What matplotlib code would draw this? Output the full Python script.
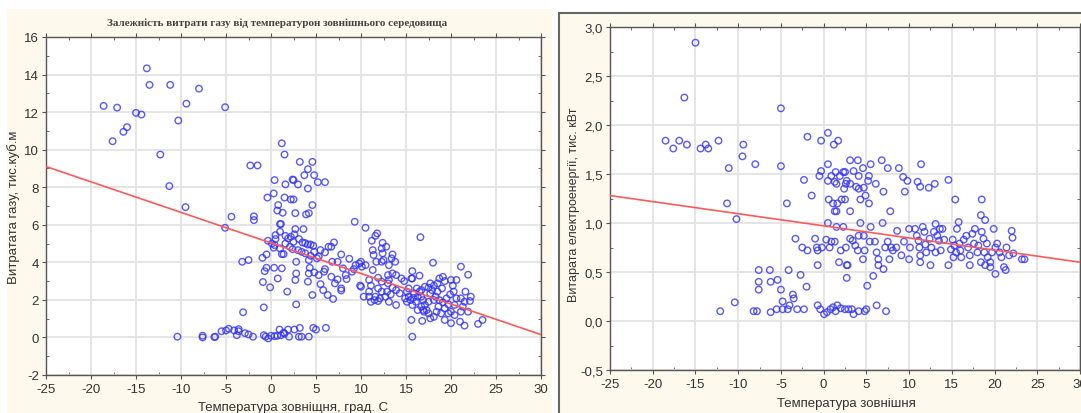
import numpy as np
import matplotlib.pyplot as plt
from matplotlib.patches import Rectangle
from matplotlib.ticker import MultipleLocator, FuncFormatter

plt.rcParams['font.family'] = ['Liberation Sans', 'DejaVu Sans']
plt.rcParams['axes.unicode_minus'] = False

# gas use vs outside temperature
gas_temp = [-18.6, -17.1, -17.6, -16.4, -16.0, -15.0, -14.4, -13.8, -13.5, -12.3,
            -11.2, -11.3, -10.3, -9.4, -9.5, -8.0, -10.4, -5.1, -5.1, -4.4,
            -3.2, -2.5, -3.1, -2.3, -1.5, -1.9, -1.9, 0.4, 0.3, -0.4,
            1.2, 1.5, 1.6, 1.5, 2.4, 2.5, 2.2, 2.5, 3.0, 3.2,
            3.7, 4.1, 4.1, 4.6, 4.8, 5.2, 6.0, 4.6, 4.2, 3.9,
            2.7, 0.8, 0.7, 1.3, 1.0, 1.1, 9.3, 10.5, 11.6, 11.8,
            11.2, 12.4, 12.8, 13.5, 16.6, 18.0, 21.1, 21.9, 15.7, 15.6,
            15.7, 16.5, 15.6, 15.7, 20.0, 21.5, 23.0, 23.5, 21.0, 16.8,
            -7.6, -7.6, -6.3, -6.2, -5.5, -5.0, -4.7, -4.1, -3.8, -3.6,
            -3.6, -2.9, -2.5, -2.0, -0.8, -0.3, 0.0, 0.4, 0.7, 0.95,
            1.1, 1.4, 2.0, 1.9, 2.6, 3.2, 3.1, 3.4, 4.2, 4.7,
            5.0, 6.1, 1.5, -0.6,
            -0.8, -0.9, -0.1, 0.75, 1.8, 2.8, -0.7, -0.5, 0.35, 1.2,
            -0.95, -0.5, 0.3, -0.35, 0.5, 1.2, 1.4, 2.8, 2.8, 2.7,
            4.1, 4.6, 4.2, 4.3, 4.8, 5.3, 5.9, 5.5, 5.8, 6.3,
            6.9, 7.1, 7.4, 7.8, 7.8, 6.7, 6.0,
            1.6, 1.9, 2.2, 2.6, 2.7, 3.6, 3.1, 3.5, 3.8, 4.1,
            4.4, 4.7, 4.8, 4.4, 4.2, 5.1, 5.3, 5.5, 6.0, 6.4,
            6.7, 7.0, 6.8, 7.4, 7.8, 8.7, 8.0, 8.3, 8.4, 9.0,
            9.2, 9.4, 9.8, 10.1, 10.0, 10.5, 9.9, 10.0, 10.3, 10.9,
            11.1, 11.5, 11.9, 11.6, 10.9, 11.1, 10.9, 11.3, 11.7, 11.4,
            11.3, 12.3, 12.4, 12.5, 12.3, 13.1, 13.4, 13.8, 13.0, 13.1,
            13.5, 13.9, 14.5, 14.8, 13.5, 12.9, 13.3, 13.9, 14.3, 12.3,
            11.9, 12.1, 13.1, 13.9, 12.7, 11.9, 12.3, 13.0,
            15.1, 15.3, 15.5, 15.7, 15.1, 14.9, 15.9, 16.2, 16.5, 16.7,
            16.9, 17.1, 17.3, 17.0, 17.5, 17.7, 17.9, 17.5, 17.7, 18.1,
            18.5, 18.7, 19.1, 19.3, 19.0, 18.5, 18.3, 18.7, 19.1, 18.6,
            18.4, 18.9, 19.3, 19.7, 19.5, 19.9, 20.3, 20.2, 20.0, 20.6,
            20.6, 20.4, 20.0, 20.4, 21.1, 21.3, 21.5, 21.1, 21.6, 22.2,
            22.1, 21.9, 19.3, 18.1, 16.9, 16.3, 16.1, 16.7, 17.1, 17.7,
            18.1, 17.5, 16.7, 16.3, 19.7, 15.8, 15.3,
            0.1, 0.5, 0.4, 1.0, 1.6, 2.1, 2.4, 3.0, 3.4, 2.5,
            3.8, 1.0]
gas_use = [12.33, 12.24, 10.45, 10.95, 11.2, 11.96, 11.87, 14.33, 13.45, 9.74,
           13.45, 8.06, 11.55, 12.45, 6.94, 13.25, 0.04, 12.26, 5.84, 6.43,
           4.03, 4.12, 1.34, 9.16, 9.16, 6.45, 6.25, 8.38, 7.67, 7.45,
           10.34, 9.74, 8.15, 7.45, 8.41, 8.38, 7.35, 7.35, 8.15, 9.35,
           8.64, 8.96, 7.93, 9.35, 8.64, 8.27, 8.27, 7.05, 6.62, 6.55,
           6.62, 7.05, 6.76, 6.64, 6.04, 6.04, 6.16, 5.84, 5.41, 5.54,
           5.15, 5.04, 4.83, 4.42, 5.34, 3.98, 3.77, 3.34, 3.53, 3.14,
           3.14, 3.29, 0.93, 0.04, 0.76, 0.63, 0.72, 0.93, 0.84, 0.88,
           0.09, 0.0, 0.02, 0.04, 0.33, 0.37, 0.46, 0.37, 0.12, 0.44,
           0.33, 0.23, 0.16, 0.04, 0.12, -0.05, 0.09, 0.07, 0.09, 0.42,
           0.12, 0.25, 0.04, 0.42, 0.42, 0.51, 0.04, 0.04, 0.04, 0.51,
           0.42, 0.51, 0.2, 0.04,
           1.6, 2.95, 2.67, 3.14, 2.44, 1.76, 3.53, 3.71, 3.71, 3.68,
           4.24, 4.42, 4.78, 5.15, 5.45, 4.44, 4.44, 4.03, 3.41, 3.06,
           2.97, 2.26, 3.41, 3.71, 3.46, 3.32, 3.5, 2.84, 2.52, 2.26,
           2.05, 2.88, 3.09, 2.61, 2.5, 3.23, 3.64,
           5.41, 5.27, 5.36, 5.49, 5.77, 5.77, 5.24, 5.06, 5.02, 4.95,
           4.95, 4.88, 4.56, 4.35, 4.12, 4.21, 4.30, 4.65, 4.53, 4.83,
           4.83, 5.06, 4.03, 4.03, 4.42, 4.19, 3.68, 3.32, 3.11, 3.5,
           3.64, 3.85, 3.94, 3.77, 4.03, 3.85, 2.76, 2.7, 2.17, 2.17,
           1.90, 1.99, 1.94, 2.17, 2.44, 2.76, 3.06, 3.59, 4.03, 4.39,
           4.65, 4.74, 4.48, 4.12, 4.03, 3.85, 4.21, 4.03, 3.32, 3.06,
           3.41, 3.32, 3.14, 3.0, 2.65, 2.44, 2.29, 2.52, 2.35, 2.44,
           2.61, 2.08, 1.90, 1.73, 2.17, 3.18, 2.97, 2.88,
           2.44, 2.17, 1.99, 1.73, 1.90, 2.08, 2.35, 2.61, 2.44, 2.17,
           1.99, 1.73, 1.46, 1.37, 1.28, 1.02, 2.52, 2.65, 2.88, 2.76,
           2.88, 3.14, 3.23, 3.0, 2.61, 2.44, 2.17, 1.99, 1.87, 1.64,
           1.37, 1.28, 1.55, 1.76, 2.08, 2.29, 2.44, 2.76, 3.06, 3.06,
           2.08, 1.73, 1.37, 1.19, 1.37, 1.64, 1.90, 2.08, 2.44, 2.17,
           1.94, 1.37, 0.93, 1.10, 1.46, 2.17, 1.90, 2.52, 2.70, 2.35,
           1.99, 1.90, 1.64, 1.46, 1.28, 2.11, 2.61,
           5.0, 5.24, 4.92, 4.74, 5.0, 4.83, 4.70, 4.65, 4.56, 5.09,
           4.48, 5.63]
gas_fit_x = [-25, 30]
gas_fit_y = [9.1, 0.15]

# electricity use vs outside temperature
el_temp = [-15.0, -16.3, -5.0, -18.5, -17.6, -16.9, -16.0, -14.4, -13.8, -13.5,
           -12.3, -9.4, -9.5, -11.1, -8.0, -5.0, -11.3, -10.2, -4.3, -2.3,
           -1.9, -1.4, -0.3, 0.5, 1.2, 1.7, -0.5, -0.3, 0.5, 0.5,
           0.9, 1.3, 1.4, 1.5, 1.9, 2.3, 2.5, 2.6, 2.4, 2.7,
           3.1, 4.0, 3.5, 4.1, 4.6, 5.3, 5.5, 6.1, 5.2, 4.1,
           3.8, 4.7, 4.9, 4.3, 5.3, 3.1, 6.8, 7.5, 7.0, 7.8,
           8.8, 9.3, 9.8, 9.5, 11.0, 11.3, 11.4, 12.3, 13.0, 14.6,
           15.4, 18.5, 18.4, 18.9, 0.6, 1.1, 1.6, 1.3, 1.5, 2.1,
           2.5, 3.1, 0.5, 1.5, 2.3, 4.3, 5.5, 6.9, 4.1, 4.7,
           3.1, -3.3, -1.0, -0.8, -2.5, -1.9, -0.7, -0.2, 0.3, 0.9,
           1.3, 0.7, 2.0, 1.8, 2.7, 2.8, 2.7, -0.7, 2.6, 3.4,
           3.7, 4.0, 4.6, 4.8, 5.4, 6.0, 6.2, 6.4, 6.4, 7.0,
           5.8, 5.1, 7.2, 7.5, 7.9, 7.7, 8.1, 8.5, 8.6, 9.1,
           9.4, 10.0, 10.1, 10.0, 10.7, 10.9, 11.1, 11.2, 11.3, 11.3,
           11.6, 11.8, 11.9, 12.0, 12.4, 12.5, 12.6, 12.9, 13.1, 13.3,
           13.5, 13.6, 13.9, 13.1, 13.7, 14.1, 14.6, 14.9, 15.1, 15.3,
           15.5, 15.6, 15.8, 15.9, 16.0, 15.2, 16.1, 16.4, 16.7, 16.9,
           17.1, 17.1, 17.4, 17.6, 17.7, 18.0, 18.1, 18.5, 18.7, 18.8,
           18.4, 18.9, 19.1, 19.2, 19.5, 19.5, 19.7, 19.9, 20.1, 20.1,
           20.3, 20.6, 20.8, 21.1, 21.3, 21.4, 21.7, 22.0, 22.1, 22.2,
           23.2, 23.5,
           -7.6, -7.6, -7.6, -6.3, -6.2, -5.4, -5.0, -4.1, -2.7, -2.0,
           -3.6, -3.5, -4.8, -4.0, -10.4, -12.1, -8.2, -7.8, -6.2, -5.5,
           -4.8, -4.2, -3.1, -2.3, -0.7, -0.4, 0.05, 0.4, 0.8, 1.1,
           1.4, 1.6, 2.0, 2.5, 2.9, 3.3, 3.5, 4.1, 4.8, 5.0,
           6.2, 7.3]
el_use = [2.84, 2.28, 2.17, 1.84, 1.76, 1.84, 1.80, 1.76, 1.80, 1.76,
          1.84, 1.80, 1.68, 1.56, 1.60, 1.58, 1.20, 1.04, 1.20, 1.44,
          1.88, 1.28, 1.84, 1.92, 1.80, 1.84, 1.48, 1.53, 1.60, 1.43,
          1.48, 1.42, 1.52, 1.40, 1.48, 1.52, 1.52, 1.40, 1.35, 1.43,
          1.64, 1.64, 1.53, 1.48, 1.56, 1.48, 1.60, 1.40, 1.43, 1.35,
          1.37, 1.36, 1.28, 1.24, 1.20, 1.40, 1.64, 1.56, 1.32, 1.12,
          1.56, 1.47, 1.43, 1.32, 1.42, 1.37, 1.60, 1.36, 1.40, 1.44,
          1.24, 1.24, 1.08, 1.03, 1.24, 1.20, 1.20, 1.12, 1.12, 1.24,
          1.24, 1.12, 1.00, 0.96, 0.96, 1.00, 0.96, 1.00, 0.87, 0.87,
          0.84, 0.84, 0.84, 0.75, 0.75, 0.72, 0.72, 0.75, 0.83, 0.81,
          0.81, 0.75, 0.72, 0.60, 0.57, 0.57, 0.44, 0.57, 0.75, 0.82,
          0.77, 0.72, 0.63, 0.72, 0.81, 0.81, 0.70, 0.63, 0.57, 0.53,
          0.46, 0.36, 0.75, 0.81, 0.75, 0.63, 0.72, 0.75, 0.92, 0.67,
          0.81, 0.94, 0.75, 0.63, 0.94, 0.87, 0.82, 0.75, 0.67, 0.60,
          0.96, 0.91, 0.78, 0.70, 0.84, 0.57, 0.75, 0.91, 0.99, 0.87,
          0.82, 0.94, 0.94, 0.70, 0.72, 0.83, 0.57, 0.73, 0.83, 0.77,
          0.70, 0.94, 1.01, 0.79, 0.72, 0.65, 0.65, 0.83, 0.87, 0.75,
          0.67, 0.57, 0.89, 0.79, 0.94, 0.70, 0.77, 0.91, 0.84, 0.70,
          0.60, 0.57, 0.79, 0.65, 0.60, 0.55, 0.70, 0.94, 0.75, 0.48,
          0.79, 0.70, 0.65, 0.55, 0.52, 0.75, 0.67, 0.92, 0.85, 0.69,
          0.63, 0.63,
          0.52, 0.40, 0.32, 0.52, 0.40, 0.42, 0.32, 0.52, 0.47, 0.35,
          0.27, 0.23, 0.20, 0.16, 0.19, 0.10, 0.10, 0.10, 0.09, 0.12,
          0.12, 0.12, 0.12, 0.12, 0.16, 0.12, 0.07, 0.09, 0.12, 0.14,
          0.10, 0.16, 0.13, 0.12, 0.12, 0.12, 0.07, 0.10, 0.10, 0.12,
          0.16, 0.10]
el_fit_x = [-25, 30]
el_fit_y = [1.28, 0.60]

W, H = 1081, 414
cream = '#fdf9ec'
dot = '#3030ff'
fit_col = '#ff5a5a'
txt = '#333333'

fig = plt.figure(figsize=(W / 100, H / 100), dpi=100)
fig.patches.append(Rectangle((7 / W, 0), 545 / W, 404 / H, transform=fig.transFigure,
                             facecolor=cream, edgecolor='none', zorder=-10))
fig.patches.append(Rectangle((559 / W, -0.01), 530 / W, 400 / H + 0.01, transform=fig.transFigure,
                             facecolor=cream, edgecolor='#666666', lw=1.5, zorder=-10))


def style(ax):
    ax.set_facecolor('white')
    ax.grid(True, which='major', color='#e3e3e3', lw=1.3)
    ax.set_axisbelow(True)
    for s in ax.spines.values():
        s.set_color('#555555')
        s.set_linewidth(1.0)
    ax.tick_params(which='both', colors='#555555', labelcolor=txt, labelsize=9.5,
                   top=True, right=True)
    ax.tick_params(which='major', direction='out', length=3, pad=2)
    ax.tick_params(which='minor', direction='in', length=2)
    ax.tick_params(axis='x', which='major', pad=3)


ax1 = fig.add_axes([46 / W, 1 - 376 / H, 495 / W, 338 / H])
ax1.scatter(gas_temp, gas_use, s=22, facecolors='none', edgecolors=dot, linewidths=1.0,
            alpha=0.8, zorder=3)
ax1.plot(gas_fit_x, gas_fit_y, color=fit_col, lw=1.2, zorder=4)
ax1.set_xlim(-25, 30)
ax1.set_ylim(-2, 16)
ax1.xaxis.set_major_locator(MultipleLocator(5))
ax1.xaxis.set_minor_locator(MultipleLocator(2.5))
ax1.yaxis.set_major_locator(MultipleLocator(2))
ax1.yaxis.set_minor_locator(MultipleLocator(1))
style(ax1)
fig.text(277 / W, 1 - 23 / H, 'Залежність витрати газу від температурон зовнішнього середовища',
         family='Liberation Serif', fontsize=8, weight='bold', color='#444444',
         ha='center', va='center')
fig.text(14 / W, 1 - 207 / H, 'Витратата газу, тис.куб.м', rotation=90, fontsize=9.5,
         color=txt, ha='center', va='center')
fig.text(293 / W, 1 - 408 / H, 'Температура зовніщня, град. С', fontsize=9.5,
         color=txt, ha='center', va='center')

ax2 = fig.add_axes([610 / W, 1 - 371 / H, 470 / W, 343 / H])
ax2.scatter(el_temp, el_use, s=22, facecolors='none', edgecolors=dot, linewidths=1.0,
            alpha=0.8, zorder=3)
ax2.plot(el_fit_x, el_fit_y, color=fit_col, lw=1.2, zorder=4)
ax2.set_xlim(-25, 30)
ax2.set_ylim(-0.5, 3.0)
ax2.xaxis.set_major_locator(MultipleLocator(5))
ax2.xaxis.set_minor_locator(MultipleLocator(2.5))
ax2.yaxis.set_major_locator(MultipleLocator(0.5))
ax2.yaxis.set_minor_locator(MultipleLocator(0.25))
ax2.yaxis.set_major_formatter(FuncFormatter(lambda v, p: f'{v:.1f}'.replace('.', ',')))
style(ax2)
fig.text(574 / W, 1 - 205 / H, 'Витарата електроенергії, тис. кВт', rotation=90, fontsize=9,
         color=txt, ha='center', va='center')
fig.text(846 / W, 1 - 404 / H, 'Температура зовнішня', fontsize=9.5,
         color=txt, ha='center', va='center')

fig.savefig('out.png', dpi=100)
